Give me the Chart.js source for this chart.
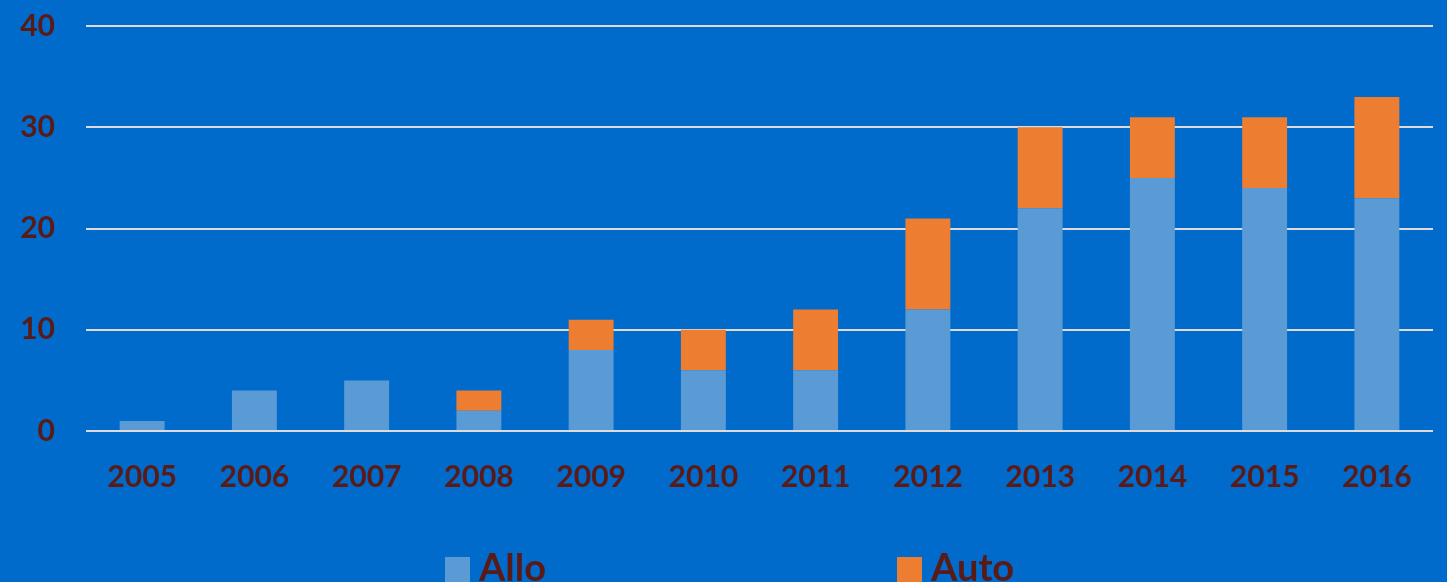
<!DOCTYPE html>
<html>
<head>
<meta charset="utf-8">
<script src="https://cdn.jsdelivr.net/npm/chart.js@4"></script>
<style>
  html, body { margin: 0; padding: 0; background: #016bcb; }
  #wrap { position: relative; width: 1447px; height: 582px; overflow: hidden; }
</style>
</head>
<body>
<div id="wrap"><canvas id="chart1" width="1447" height="582"></canvas></div>
<script>
const years = ['2005', '2006', '2007', '2008', '2009', '2010', '2011', '2012', '2013', '2014', '2015', '2016'];
const allo = [1, 4, 5, 2, 8, 6, 6, 12, 22, 25, 24, 23];
const auto = [0, 0, 0, 2, 3, 4, 6, 9, 8, 6, 7, 10];
const yTicks = [0, 10, 20, 30, 40];

const textColor = '#5a1a16';
const gridColor = '#dcdcdc';

// legend drawn by hand so the two items sit where the original has them
const bottomLegend = {
    id: 'bottomLegend',
    afterDraw(chart) {
        const ctx = chart.ctx;
        const xs = [445, 897];
        ctx.save();
        ctx.font = 'bold 38px Lato';
        ctx.textBaseline = 'alphabetic';
        ctx.textAlign = 'left';
        chart.data.datasets.forEach((ds, i) => {
            ctx.fillStyle = ds.backgroundColor;
            ctx.fillRect(xs[i], 557, 25, 25);
            ctx.fillStyle = textColor;
            ctx.fillText(ds.label, xs[i] + 34, 581);
        });
        ctx.restore();
    }
};

const barChart = new Chart(document.getElementById('chart1'), {
    type: 'bar',
    data: {
        labels: years,
        datasets: [{
            label: 'Allo',
            data: allo,
            backgroundColor: '#5b9bd5',
            barPercentage: 0.4,
            categoryPercentage: 1
        }, {
            label: 'Auto',
            data: auto,
            backgroundColor: '#ed7d31',
            barPercentage: 0.4,
            categoryPercentage: 1
        }]
    },
    options: {
        responsive: false,
        animation: false,
        layout: { padding: { left: 0, right: 14, top: 26, bottom: 0 } },
        plugins: {
            legend: { display: false },
            tooltip: { enabled: false }
        },
        scales: {
            x: {
                stacked: true,
                grid: { display: false },
                border: { display: false },
                ticks: {
                    color: textColor,
                    font: { family: 'Lato', size: 30, weight: 'bold' },
                    padding: 20,
                    maxRotation: 0
                },
                afterFit(scale) { scale.height = 151; }
            },
            y: {
                stacked: true,
                min: 0,
                max: 40,
                afterBuildTicks(scale) { scale.ticks = yTicks.map(v => ({ value: v })); },
                grid: { color: gridColor, lineWidth: 2, drawTicks: false },
                border: { display: false },
                ticks: {
                    color: textColor,
                    font: { family: 'Lato', size: 30, weight: 'bold' },
                    padding: 31
                },
                afterFit(scale) {
                    scale.width = 86;
                    scale.paddingTop = 0;
                    scale.paddingBottom = 0;
                }
            }
        }
    },
    plugins: [bottomLegend]
});
</script>
</body>
</html>
